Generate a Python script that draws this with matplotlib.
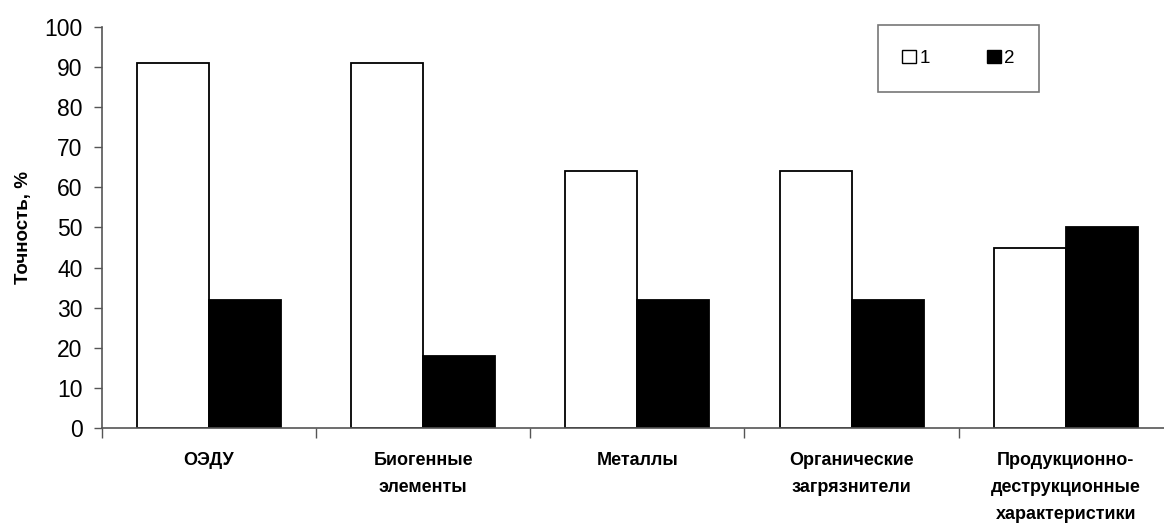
import matplotlib
matplotlib.use("Agg")
import matplotlib.pyplot as plt
import numpy as np
from matplotlib.patches import Patch

plt.rcParams['font.family'] = ['Liberation Sans', 'DejaVu Sans']

categories = ["ОЭДУ", "Биогенные\nэлементы", "Металлы", "Органические\nзагрязнители",
              "Продукционно-\nдеструкционные\nхарактеристики"]
series1 = [91, 91, 64, 64, 45]
series2 = [32, 18, 32, 32, 50]
series_names = ["1", "2"]
y_ticks = list(range(0, 101, 10))

fig = plt.figure(figsize=(11.64, 5.25), dpi=100)
ax = fig.add_axes([0.0876, 0.1848, 0.920, 0.7638])

x = np.arange(len(categories))
w = 0.336
ax.bar(x, series1, width=-w, align='edge', color='white', edgecolor='black', linewidth=1.3,
       label=series_names[0])
ax.bar(x, series2, width=w, align='edge', color='black', edgecolor='black', linewidth=1.3,
       label=series_names[1])

ax.set_xlim(-0.5, len(categories) - 0.5)
ax.set_ylim(0, 100)
ax.set_yticks(y_ticks)
ax.tick_params(axis='y', labelsize=16.5, length=6, width=1, color='#555555', pad=8)

# ticks between groups, labels centred under each group
ax.set_xticks(np.arange(len(categories) + 1) - 0.5)
ax.set_xticklabels([])
ax.tick_params(axis='x', which='major', length=7, width=1, color='#555555')
ax.set_xticks(x, minor=True)
ax.set_xticklabels(categories, minor=True, fontsize=13, fontweight='bold', linespacing=1.8,
                   va='top')
ax.tick_params(axis='x', which='minor', length=0, pad=17)

for s in ['top', 'right']:
    ax.spines[s].set_visible(False)
for s in ['left', 'bottom']:
    ax.spines[s].set_color('#555555')
    ax.spines[s].set_linewidth(1.2)

ax.set_ylabel("Точность, %", fontsize=13.5, fontweight='bold', labelpad=9)

handles = [Patch(facecolor='white', edgecolor='black', linewidth=1),
           Patch(facecolor='black', edgecolor='black', linewidth=1)]
leg = ax.legend(handles, series_names, ncol=2, loc='upper left',
                bbox_to_anchor=(0.7245, 1.004), fontsize=13.5, frameon=True, fancybox=False,
                handlelength=0.75, handleheight=0.75, handletextpad=0.2, columnspacing=3.0,
                borderpad=1.3, borderaxespad=0)
leg.get_frame().set_edgecolor('#555555')
leg.get_frame().set_linewidth(1.2)

fig.savefig("out.png", dpi=100)
